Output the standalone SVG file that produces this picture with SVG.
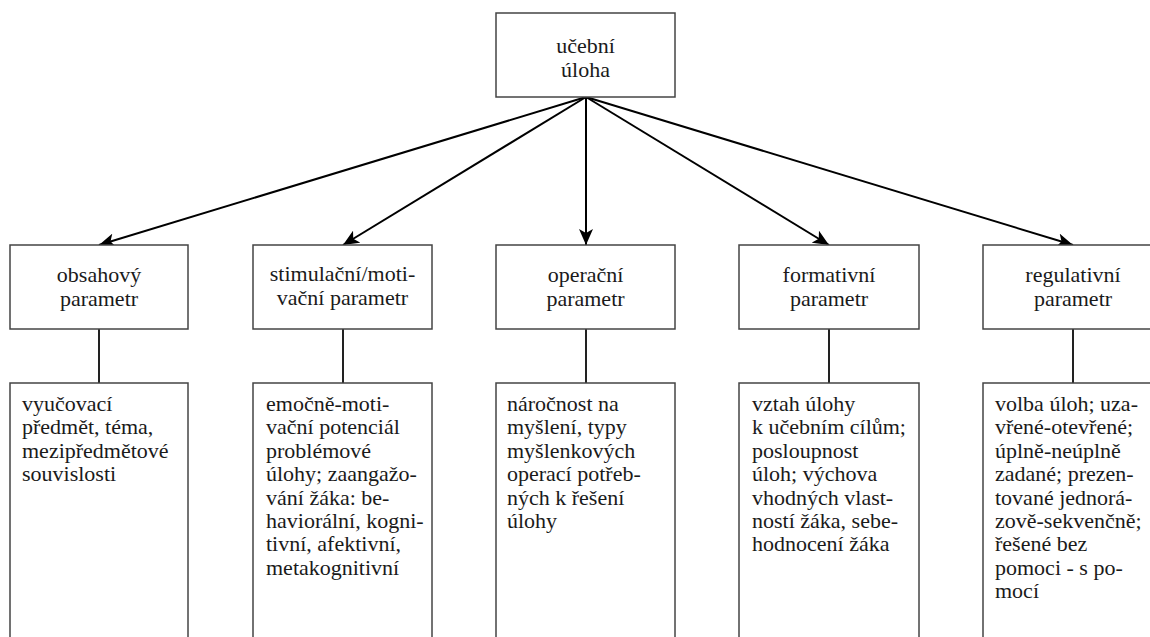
<svg xmlns="http://www.w3.org/2000/svg" width="1150" height="637" viewBox="0 0 1150 637">
<defs>
<style>
.box{fill:#fff;stroke:#444;stroke-width:1.5}
.edge{stroke:#000;stroke-width:2;fill:none}
.link{stroke:#222;stroke-width:2;fill:none}
</style>
<marker id="ah" markerUnits="userSpaceOnUse" markerWidth="18" markerHeight="14" refX="16" refY="7" orient="auto">
<path d="M0,0 L16,7 L0,14 L4,7 z" fill="#000"/>
</marker>
</defs>
<rect width="1150" height="637" fill="#fff"/>
<g id="connectors">
<line class="edge" x1="586" y1="97" x2="99" y2="245" marker-end="url(#ah)"/>
<line class="edge" x1="586" y1="97" x2="343" y2="245" marker-end="url(#ah)"/>
<line class="edge" x1="586" y1="97" x2="586" y2="245" marker-end="url(#ah)"/>
<line class="edge" x1="586" y1="97" x2="829" y2="245" marker-end="url(#ah)"/>
<line class="edge" x1="586" y1="97" x2="1073" y2="245" marker-end="url(#ah)"/>
<line class="link" x1="99" y1="329" x2="99" y2="383"/>
<line class="link" x1="343" y1="329" x2="343" y2="383"/>
<line class="link" x1="586" y1="329" x2="586" y2="383"/>
<line class="link" x1="829" y1="329" x2="829" y2="383"/>
<line class="link" x1="1073" y1="329" x2="1073" y2="383"/>
</g>
<g id="root">
<rect class="box" x="496" y="13" width="179" height="84"/>
<text font-family="Liberation Serif" font-size="22" fill="#1a1a1a" text-anchor="middle" x="585.5" y="53">učební</text>
<text font-family="Liberation Serif" font-size="22" fill="#1a1a1a" text-anchor="middle" x="585.5" y="77">úloha</text>
</g>
<g id="p1">
<rect class="box" x="10" y="245" width="178" height="84"/>
<text font-family="Liberation Serif" font-size="22" fill="#1a1a1a" text-anchor="middle" x="99" y="282">obsahový</text>
<text font-family="Liberation Serif" font-size="22" fill="#1a1a1a" text-anchor="middle" x="99" y="306">parametr</text>
</g>
<g id="p2">
<rect class="box" x="253" y="245" width="179" height="84"/>
<text font-family="Liberation Serif" font-size="22" fill="#1a1a1a" text-anchor="middle" x="342.5" y="281">stimulační/moti-</text>
<text font-family="Liberation Serif" font-size="22" fill="#1a1a1a" text-anchor="middle" x="342.5" y="305">vační parametr</text>
</g>
<g id="p3">
<rect class="box" x="496" y="245" width="179" height="84"/>
<text font-family="Liberation Serif" font-size="22" fill="#1a1a1a" text-anchor="middle" x="585.5" y="282">operační</text>
<text font-family="Liberation Serif" font-size="22" fill="#1a1a1a" text-anchor="middle" x="585.5" y="306">parametr</text>
</g>
<g id="p4">
<rect class="box" x="739" y="245" width="180" height="84"/>
<text font-family="Liberation Serif" font-size="22" fill="#1a1a1a" text-anchor="middle" x="829" y="282">formativní</text>
<text font-family="Liberation Serif" font-size="22" fill="#1a1a1a" text-anchor="middle" x="829" y="306">parametr</text>
</g>
<g id="p5">
<rect class="box" x="983" y="245" width="180" height="84"/>
<text font-family="Liberation Serif" font-size="22" fill="#1a1a1a" text-anchor="middle" x="1073" y="282">regulativní</text>
<text font-family="Liberation Serif" font-size="22" fill="#1a1a1a" text-anchor="middle" x="1073" y="306">parametr</text>
</g>
<g id="d1">
<rect class="box" x="10" y="383" width="178" height="270"/>
<text font-family="Liberation Serif" font-size="22" fill="#1a1a1a" x="22" y="411">vyučovací</text>
<text font-family="Liberation Serif" font-size="22" fill="#1a1a1a" x="22" y="434.4">předmět, téma,</text>
<text font-family="Liberation Serif" font-size="22" fill="#1a1a1a" x="22" y="457.8">mezipředmětové</text>
<text font-family="Liberation Serif" font-size="22" fill="#1a1a1a" x="22" y="481.2">souvislosti</text>
</g>
<g id="d2">
<rect class="box" x="253" y="383" width="179" height="270"/>
<text font-family="Liberation Serif" font-size="22" fill="#1a1a1a" x="266" y="411">emočně-moti-</text>
<text font-family="Liberation Serif" font-size="22" fill="#1a1a1a" x="266" y="434.4">vační potenciál</text>
<text font-family="Liberation Serif" font-size="22" fill="#1a1a1a" x="266" y="457.8">problémové</text>
<text font-family="Liberation Serif" font-size="22" fill="#1a1a1a" x="266" y="481.2">úlohy; zaangažo-</text>
<text font-family="Liberation Serif" font-size="22" fill="#1a1a1a" x="266" y="504.6">vání žáka: be-</text>
<text font-family="Liberation Serif" font-size="22" fill="#1a1a1a" x="266" y="528">haviorální, kogni-</text>
<text font-family="Liberation Serif" font-size="22" fill="#1a1a1a" x="266" y="551.4">tivní, afektivní,</text>
<text font-family="Liberation Serif" font-size="22" fill="#1a1a1a" x="266" y="574.8">metakognitivní</text>
</g>
<g id="d3">
<rect class="box" x="496" y="383" width="179" height="270"/>
<text font-family="Liberation Serif" font-size="22" fill="#1a1a1a" x="507" y="411">náročnost na</text>
<text font-family="Liberation Serif" font-size="22" fill="#1a1a1a" x="507" y="434.4">myšlení, typy</text>
<text font-family="Liberation Serif" font-size="22" fill="#1a1a1a" x="507" y="457.8">myšlenkových</text>
<text font-family="Liberation Serif" font-size="22" fill="#1a1a1a" x="507" y="481.2">operací potřeb-</text>
<text font-family="Liberation Serif" font-size="22" fill="#1a1a1a" x="507" y="504.6">ných k řešení</text>
<text font-family="Liberation Serif" font-size="22" fill="#1a1a1a" x="507" y="528">úlohy</text>
</g>
<g id="d4">
<rect class="box" x="739" y="383" width="180" height="270"/>
<text font-family="Liberation Serif" font-size="22" fill="#1a1a1a" x="752" y="411">vztah úlohy</text>
<text font-family="Liberation Serif" font-size="22" fill="#1a1a1a" x="752" y="434.4">k učebním cílům;</text>
<text font-family="Liberation Serif" font-size="22" fill="#1a1a1a" x="752" y="457.8">posloupnost</text>
<text font-family="Liberation Serif" font-size="22" fill="#1a1a1a" x="752" y="481.2">úloh; výchova</text>
<text font-family="Liberation Serif" font-size="22" fill="#1a1a1a" x="752" y="504.6">vhodných vlast-</text>
<text font-family="Liberation Serif" font-size="22" fill="#1a1a1a" x="752" y="528">ností žáka, sebe-</text>
<text font-family="Liberation Serif" font-size="22" fill="#1a1a1a" x="752" y="551.4">hodnocení žáka</text>
</g>
<g id="d5">
<rect class="box" x="983" y="383" width="180" height="270"/>
<text font-family="Liberation Serif" font-size="22" fill="#1a1a1a" x="995" y="411">volba úloh; uza-</text>
<text font-family="Liberation Serif" font-size="22" fill="#1a1a1a" x="995" y="434.4">vřené-otevřené;</text>
<text font-family="Liberation Serif" font-size="22" fill="#1a1a1a" x="995" y="457.8">úplně-neúplně</text>
<text font-family="Liberation Serif" font-size="22" fill="#1a1a1a" x="995" y="481.2">zadané; prezen-</text>
<text font-family="Liberation Serif" font-size="22" fill="#1a1a1a" x="995" y="504.6">tované jednorá-</text>
<text font-family="Liberation Serif" font-size="22" fill="#1a1a1a" x="995" y="528">zově-sekvenčně;</text>
<text font-family="Liberation Serif" font-size="22" fill="#1a1a1a" x="995" y="551.4">řešené bez</text>
<text font-family="Liberation Serif" font-size="22" fill="#1a1a1a" x="995" y="574.8">pomoci - s po-</text>
<text font-family="Liberation Serif" font-size="22" fill="#1a1a1a" x="995" y="598.2">mocí</text>
</g>
</svg>
